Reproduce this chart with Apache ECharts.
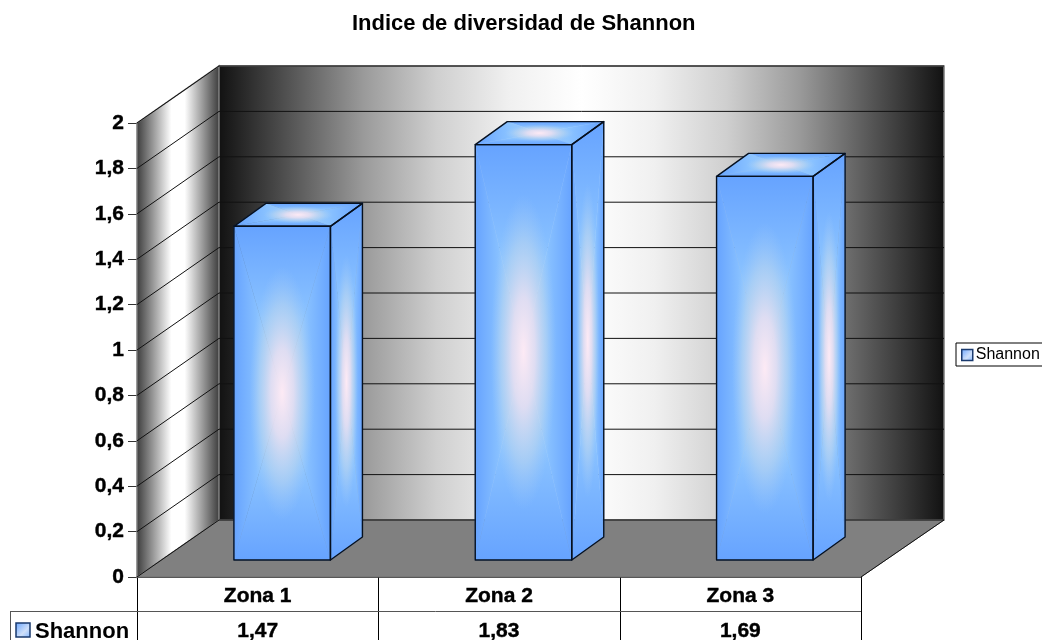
<!DOCTYPE html>
<html><head><meta charset="utf-8">
<style>html,body{margin:0;padding:0;background:#fff}#c{width:1042px;height:640px}</style>
<script src="https://cdn.jsdelivr.net/npm/echarts@6/dist/echarts.min.js"></script></head>
<body><div id="c"></div>
<script>
const categories = ['Zona 1', 'Zona 2', 'Zona 3'];
const shannon = [1.47, 1.83, 1.69];
const seriesName = 'Shannon';
const titleText = 'Indice de diversidad de Shannon';
const tickValues = [0, 0.2, 0.4, 0.6, 0.8, 1, 1.2, 1.4, 1.6, 1.8, 2];

const DX = 82, DY = 57;            // wall depth
const BDX = 32, BDY = 23;          // bar depth
const OX = 24.5, OY = 17;          // bar offset into the floor
const FONT = '"Liberation Sans", Arial, sans-serif';
const fmt = v => String(v).replace('.', ',');

const wallGrad = {type:'linear',x:0,y:0,x2:1,y2:0,colorStops:[
  {offset:0,color:'#111111'},{offset:0.1,color:'#555555'},{offset:0.2,color:'#9a9a9a'},
  {offset:0.3,color:'#cfcfcf'},{offset:0.4,color:'#f0f0f0'},{offset:0.5,color:'#ffffff'},
  {offset:0.6,color:'#f0f0f0'},{offset:0.7,color:'#cfcfcf'},{offset:0.8,color:'#9a9a9a'},
  {offset:0.9,color:'#555555'},{offset:1,color:'#111111'}
]};
const sideGrad = {type:'linear',x:0,y:0,x2:1,y2:0,colorStops:[
  {offset:0,color:'#3a3a3a'},{offset:0.42,color:'#ffffff'},{offset:0.58,color:'#ffffff'},{offset:1,color:'#3a3a3a'}
]};

const ramp = (x,y,x2,y2) => ({type:'linear',x,y,x2,y2,colorStops:[
  {offset:0,color:'#66a3ff'},{offset:0.55,color:'#8cc4ff'},{offset:1,color:'#a6cdf6'}
]});
const glow = {type:'radial',x:0.5,y:0.5,r:0.5,colorStops:[
  {offset:0,color:'rgba(253,234,245,1)'},
  {offset:0.35,color:'rgba(240,226,240,0.8)'},
  {offset:0.7,color:'rgba(200,218,235,0.45)'},
  {offset:1,color:'rgba(166,205,246,0)'}
]};

function softFace(p0, p1, p2, p3, rx, ry) {
  const c = [(p0[0]+p2[0])/2,(p0[1]+p2[1])/2];
  const tri = (a,b,g) => ({type:'polygon',shape:{points:[a,b,c]},style:{fill:g,stroke:g,lineWidth:0.5},silent:true});
  return [
    tri(p0,p1,ramp(0,0,0,1)),tri(p1,p2,ramp(1,0,0,0)),tri(p2,p3,ramp(0,1,0,0)),tri(p3,p0,ramp(0,0,1,0)),
    {type:'circle',shape:{cx:0,cy:0,r:1},x:c[0],y:c[1],scaleX:rx,scaleY:ry,style:{fill:glow},silent:true}
  ];
}

function renderWalls(params, api) {
  const a = api.coord([0,0]), top = api.coord([0,2]);
  const size = api.size([1,0]);
  const x0 = a[0]-size[0]/2, x1 = x0+size[0]*categories.length, y0 = a[1], y1 = top[1];
  const line = {stroke:'#7a7a7a',lineWidth:1.5};
  return {type:'group',children:[
    {type:'polygon',shape:{points:[[x0,y1],[x0+DX,y1-DY],[x0+DX,y0-DY],[x0,y0]]},style:{fill:sideGrad,...line}},
    {type:'rect',shape:{x:x0+DX,y:y1-DY,width:x1-x0+1,height:y0-y1},style:{fill:wallGrad,...line}},
    {type:'polygon',shape:{points:[[x0,y0],[x0+DX,y0-DY],[x1+DX+1,y0-DY],[x1,y0]]},style:{fill:'#808080',stroke:'#707070',lineWidth:1}},
    {type:'line',shape:{x1:x1,y1:y0,x2:x1+DX+1,y2:y0-DY},style:{stroke:'#111',lineWidth:1}}
  ]};
}

function renderGrid(params, api) {
  const v = api.value(0);
  const a = api.coord([0,v]);
  const size = api.size([1,0]);
  const x0 = a[0]-size[0]/2, x1 = x0+size[0]*categories.length, y = a[1];
  return {type:'polyline',shape:{points:[[x0,y],[x0+DX,y-DY],[x1+DX+1,y-DY]]},style:{fill:'none',stroke:'#111111',lineWidth:1}};
}

function renderBar(params, api) {
  const cat = api.value(0), val = api.value(1);
  const c = api.coord([cat,val]), b = api.coord([cat,0]);
  const w = api.size([1,0])[0]*0.4;
  const l = c[0]-w/2+OX, r = l+w, t = c[1]-OY, bt = b[1]-OY, h = bt-t;
  const edge = {fill:'none',stroke:'#06101f',lineWidth:1.4,lineJoin:'round'};
  const FL=[l,t],FR=[r,t],BR=[r,bt],BL=[l,bt];
  const TL=[l+BDX,t-BDY],TR=[r+BDX,t-BDY],SR=[r+BDX,bt-BDY];
  return {type:'group',children:[
    ...softFace(FL,FR,BR,BL,w*0.34,h*0.38),
    ...softFace(TL,TR,FR,FL,w*0.36,BDY*0.38),
    ...softFace(FR,TR,SR,BR,BDX*0.36,h*0.38),
    {type:'polygon',shape:{points:[FL,FR,BR,BL]},style:edge},
    {type:'polygon',shape:{points:[TL,TR,FR,FL]},style:edge},
    {type:'polygon',shape:{points:[FR,TR,SR,BR]},style:edge}
  ]};
}

const legendIcon = {type:'linear',x:0,y:0,x2:1,y2:1,colorStops:[{offset:0,color:'#66a3ff'},{offset:0.6,color:'#cfe0fa'},{offset:1,color:'#7fb4ff'}]};
const boldLabel = {fontFamily:FONT,fontSize:21,fontWeight:'bold',color:'#000',textBorderColor:'#000',textBorderWidth:0.4};
const chart = echarts.init(document.getElementById('c'),null,{renderer:'canvas'});
chart.setOption({
  animation:false,
  backgroundColor:'#ffffff',
  title:{text:titleText,left:347,top:8,textStyle:{fontFamily:FONT,fontSize:22,fontWeight:'bold',color:'#000'}},
  legend:{left:956,top:343,padding:[4,10,3,5],itemWidth:11,itemHeight:11,itemGap:0,backgroundColor:'#fff',borderColor:'#000',borderWidth:1,borderRadius:0,
    textStyle:{fontFamily:FONT,fontSize:16,color:'#000',padding:[0,0,0,-2]},
    data:[{name:seriesName,icon:'rect',itemStyle:{color:legendIcon,borderColor:'#1a3a6e',borderWidth:1.5}}]},
  grid:{left:137,top:123,width:724,height:454,outerBoundsMode:'none'},
  xAxis:[
    {type:'category',data:categories,position:'bottom',
      axisLine:{show:true,lineStyle:{color:'#000',width:1.5}},axisTick:{show:false},
      axisLabel:{...boldLabel,margin:9}},
    {type:'category',data:shannon.map(fmt),position:'bottom',offset:34,
      axisLine:{show:false},axisTick:{show:false},
      axisLabel:{...boldLabel,margin:10}}
  ],
  yAxis:{type:'value',min:0,max:2,interval:0.2,
    axisLine:{show:true,lineStyle:{color:'#000',width:1}},
    axisTick:{show:true,length:9,lineStyle:{color:'#333'}},splitLine:{show:false},
    axisLabel:{...boldLabel,margin:13,padding:[2,0,0,0],formatter:v=>fmt(+v.toFixed(1))}},
  graphic:{elements:[
    {type:'group',silent:true,children:[
      {type:'line',shape:{x1:137.5,y1:577,x2:137.5,y2:640},style:{stroke:'#000',lineWidth:1}},
      {type:'line',shape:{x1:378.5,y1:577,x2:378.5,y2:640},style:{stroke:'#000',lineWidth:1}},
      {type:'line',shape:{x1:620.5,y1:577,x2:620.5,y2:640},style:{stroke:'#000',lineWidth:1}},
      {type:'line',shape:{x1:861.5,y1:577,x2:861.5,y2:640},style:{stroke:'#000',lineWidth:1}},
      {type:'line',shape:{x1:10,y1:611.5,x2:861,y2:611.5},style:{stroke:'#555',lineWidth:1}},
      {type:'line',shape:{x1:10.5,y1:611,x2:10.5,y2:640},style:{stroke:'#555',lineWidth:1}},
      {type:'rect',shape:{x:16,y:623,width:14,height:14},style:{fill:legendIcon,stroke:'#1a3a6e',lineWidth:1.5}},
      {type:'text',x:35,y:621,style:{text:seriesName,font:"bold 22px 'Liberation Sans', Arial, sans-serif",fill:'#000'}}
    ]}
  ]},
  series:[
    {type:'custom',name:'walls',xAxisIndex:0,renderItem:renderWalls,data:[[0]],silent:true,clip:false,z:1,encode:{x:0}},
    {type:'custom',name:'grid',xAxisIndex:0,renderItem:renderGrid,data:tickValues.map(v=>[v]),silent:true,clip:false,z:2,encode:{y:0}},
    {type:'custom',name:seriesName,xAxisIndex:0,renderItem:renderBar,data:shannon.map((v,i)=>[i,v]),clip:false,z:3,encode:{x:0,y:1}}
  ]
});
</script></body></html>
